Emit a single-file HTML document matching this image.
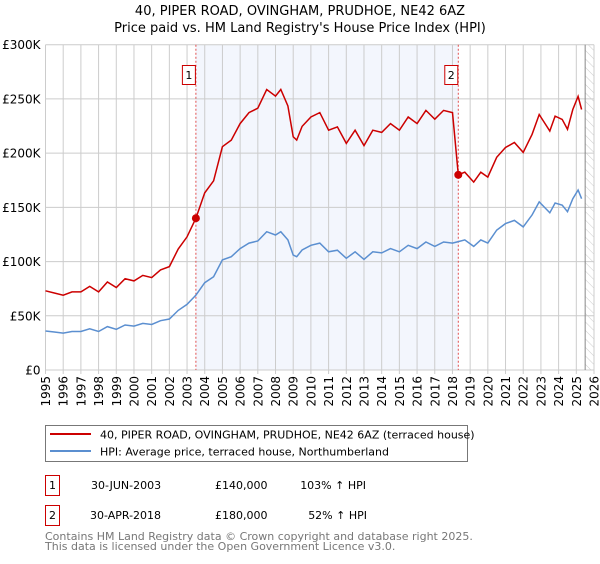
<!DOCTYPE html>
<html><head><meta charset="utf-8"><style>
body{margin:0;background:#fff;font-family:"DejaVu Sans","Liberation Sans",sans-serif;}
svg text{font-family:"DejaVu Sans","Liberation Sans",sans-serif;}
</style></head><body>
<svg id="c" width="600" height="560" xmlns="http://www.w3.org/2000/svg">
<defs><pattern id="hatch" width="6" height="6" patternUnits="userSpaceOnUse" patternTransform="rotate(-45)"><line x1="0" y1="0" x2="0" y2="6" stroke="#ccc" stroke-width="1"/></pattern></defs>
<text x="300" y="15" text-anchor="middle" font-size="13" fill="#000">40, PIPER ROAD, OVINGHAM, PRUDHOE, NE42 6AZ</text>
<text x="300" y="32" text-anchor="middle" font-size="13" fill="#000">Price paid vs. HM Land Registry's House Price Index (HPI)</text>
<g id="plot"></g>
<g>
<rect x="45.5" y="425.5" width="422" height="36" fill="#fff" stroke="#777"/>
<line x1="50" y1="434" x2="91" y2="434" stroke="#cc0000" stroke-width="2"/>
<text x="100" y="438.5" font-size="11">40, PIPER ROAD, OVINGHAM, PRUDHOE, NE42 6AZ (terraced house)</text>
<line x1="50" y1="451" x2="91" y2="451" stroke="#5b8fd0" stroke-width="2"/>
<text x="100" y="455.5" font-size="11">HPI: Average price, terraced house, Northumberland</text>
</g>
<g font-size="11">
<rect x="45.5" y="475.5" width="14" height="20" fill="#fff" stroke="#cc0000"/>
<text x="52.5" y="489" text-anchor="middle">1</text>
<text x="91" y="489">30-JUN-2003</text>
<text x="215" y="489">£140,000</text>
<text x="366" y="489" text-anchor="end">103% ↑ HPI</text>
<rect x="45.5" y="505.5" width="14" height="20" fill="#fff" stroke="#cc0000"/>
<text x="52.5" y="519" text-anchor="middle">2</text>
<text x="90" y="519">30-APR-2018</text>
<text x="215" y="519">£180,000</text>
<text x="367" y="519" text-anchor="end">52% ↑ HPI</text>
</g>
<text x="45" y="540" font-size="11" fill="#777">Contains HM Land Registry data © Crown copyright and database right 2025.</text>
<text x="45" y="550" font-size="11" fill="#777">This data is licensed under the Open Government Licence v3.0.</text>
</svg>
<script>
const hpiYears=[1995,1995.5,1996,1996.5,1997,1997.5,1998,1998.5,1999,1999.5,2000,2000.5,2001,2001.5,2002,2002.5,2003,2003.5,2004,2004.5,2005,2005.5,2006,2006.5,2007,2007.5,2008,2008.3,2008.7,2009,2009.2,2009.5,2010,2010.5,2011,2011.5,2012,2012.5,2013,2013.5,2014,2014.5,2015,2015.5,2016,2016.5,2017,2017.5,2018,2018.33,2018.7,2019.2,2019.6,2020,2020.5,2021,2021.5,2022,2022.5,2022.9,2023.5,2023.8,2024.2,2024.5,2024.8,2025.1,2025.3];
const hpiValues=[36,35,34,35.5,35.5,38,35.5,40,37.5,41.5,40.5,43,42,45.5,47,55,60.5,69,80.5,86,101.5,104.5,112,117,119,127.5,124.5,127.5,120,106,104.5,110.7,115,117,109,110.5,103,109,102,109,108,112,109,115,112,118,114,118,117,118.4,120,114,120,117,129,135,138,132,143,155,145,154,152,146,158,166,158];
const saleYears=[2003.5,2018.33];
const salePrices=[140,180];
const saleLabels=["1","2"];
const yTicks=[0,50,100,150,200,250,300];
const yTickLabels=["£0","£50K","£100K","£150K","£200K","£250K","£300K"];
const xTicks=[];for(let y=1995;y<=2026;y++)xTicks.push(y);

const X0=45.5,X1=594,Y0=370,Y1=44.7;
const xs=t=>X0+(t-1995)/31*(X1-X0);
const ys=v=>Y0-v/300*(Y0-Y1);
const NS="http://www.w3.org/2000/svg";
const g=document.getElementById('plot');
function mk(tag,at,parent){const e=document.createElementNS(NS,tag);for(const k in at)e.setAttribute(k,at[k]);(parent||g).appendChild(e);return e;}
function hpiAt(t){for(let i=0;i<hpiYears.length-1;i++){if(t>=hpiYears[i]&&t<=hpiYears[i+1]){const f=(t-hpiYears[i])/(hpiYears[i+1]-hpiYears[i]);return hpiValues[i]+f*(hpiValues[i+1]-hpiValues[i]);}}return hpiValues[hpiValues.length-1];}

// shaded region between sales
let sh=mk('rect',{x:xs(saleYears[0]),y:Y1,width:xs(saleYears[1])-xs(saleYears[0]),height:Y0-Y1,fill:'#eef2fc',opacity:0.7});


let ht=mk('rect',{x:xs(2025.5),y:Y1,width:X1-xs(2025.5),height:Y0-Y1,fill:'url(#hatch)'});


// grid
xTicks.forEach(t=>{const l=mk('line',{x1:xs(t),x2:xs(t),y1:Y1,y2:Y0+4,stroke:'#ccc'});


const tx=mk('text',{x:0,y:0,'font-size':12,'text-anchor':'end',transform:`translate(${xs(t)+4.5},${Y0+6}) rotate(-90)`});tx.textContent=t;

});
yTicks.forEach((v,i)=>{const l=mk('line',{x1:X0,x2:X1,y1:ys(v),y2:ys(v),stroke:'#ccc'});


const tx=mk('text',{x:X0-5,y:ys(v)+4.5,'font-size':12,'text-anchor':'end'});tx.textContent=yTickLabels[i];

});
let ed=mk('line',{x1:xs(2025.5),x2:xs(2025.5),y1:Y1,y2:Y0,stroke:'#888'});


// sale vlines
saleYears.forEach((s,i)=>{const l=mk('line',{x1:xs(s),x2:xs(s),y1:Y1,y2:Y0,stroke:'#e05050','stroke-dasharray':'2,2'});


const b=mk('rect',{x:xs(s)-13.5,y:65.5,width:13,height:19,fill:'#fff',stroke:'#cc0000'});


const tx=mk('text',{x:xs(s)-7,y:79,'font-size':11,'text-anchor':'middle'});tx.textContent=saleLabels[i];

});
// hpi line
let d='';hpiYears.forEach((t,i)=>{d+=(i?'L':'M')+xs(t).toFixed(1)+','+ys(hpiValues[i]).toFixed(1);});
let hp=mk('path',{d:d,fill:'none',stroke:'#5b8fd0','stroke-width':1.5});


// property line: HPI scaled from each sale
let pd='';
hpiYears.forEach((t,i)=>{const k=t<saleYears[1]?0:1;const f=salePrices[k]/hpiAt(saleYears[k]);pd+=(i?'L':'M')+xs(t).toFixed(1)+','+ys(hpiValues[i]*f).toFixed(1);
if(i<hpiYears.length-1&&t<saleYears[1]&&hpiYears[i+1]>saleYears[1]){const v=hpiAt(saleYears[1]);pd+='L'+xs(saleYears[1]).toFixed(1)+','+ys(v*salePrices[0]/hpiAt(saleYears[0])).toFixed(1)+'L'+xs(saleYears[1]).toFixed(1)+','+ys(salePrices[1]).toFixed(1);}});
let pp=mk('path',{d:pd,fill:'none',stroke:'#cc0000','stroke-width':1.5});


saleYears.forEach((s,i)=>{const c=mk('circle',{cx:xs(s),cy:ys(salePrices[i]),r:4,fill:'#cc0000'});

});
</script>
</body></html>
